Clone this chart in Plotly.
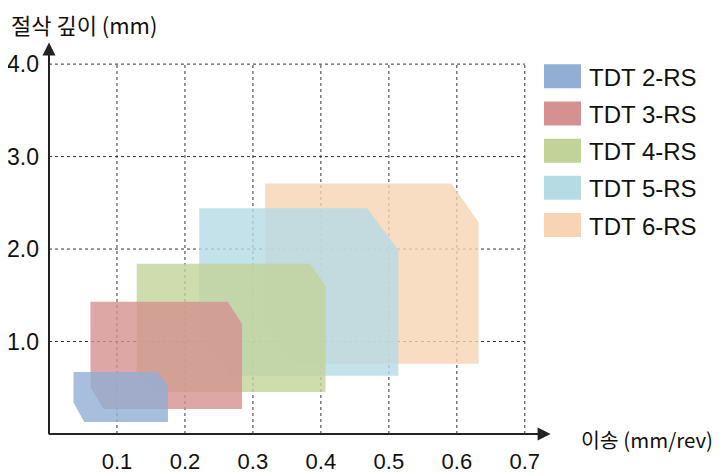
import plotly.graph_objects as go

# ---------------- data ----------------
series = ["TDT 2-RS", "TDT 3-RS", "TDT 4-RS", "TDT 5-RS", "TDT 6-RS"]
colors = ["#92AED4", "#D49190", "#C2D39A", "#B5DBE5", "#F8D4B4"]

# feed (mm/rev) extents of each operating window
x_left = [0.036, 0.061, 0.129, 0.221, 0.318]
x_left_cut = [0.052, 0.080, 0.152, 0.266, 0.357]
x_right_cut = [0.159, 0.263, 0.384, 0.468, 0.592]
x_right = [0.175, 0.284, 0.407, 0.514, 0.632]
# depth of cut (mm) extents
y_top = [0.67, 1.43, 1.84, 2.44, 2.71]
y_top_cut = [0.53, 1.19, 1.60, 1.99, 2.29]
y_bottom_cut = [0.34, 0.51, 0.68, 1.10, 1.17]
y_bottom = [0.13, 0.27, 0.455, 0.63, 0.76]

x_ticks = [0.1, 0.2, 0.3, 0.4, 0.5, 0.6, 0.7]
y_ticks = [1.0, 2.0, 3.0, 4.0]
x_tick_labels = ["0.1", "0.2", "0.3", "0.4", "0.5", "0.6", "0.7"]
y_tick_labels = ["1.0", "2.0", "3.0", "4.0"]

x_title = "이송 (mm/rev)"
y_title = "절삭 깊이 (mm)"

# ---------------- layout helpers ----------------
OFF = 8  # page body margin
W, H = 722 - OFF, 475 - OFF
ML, MR, MT, MB = 49 - OFF, 170, 40.7 - OFF, 41.2
X_MAX = 0.74
Y_MAX = 4.25
FONT = "Liberation Sans, Arial, Noto Sans CJK KR, sans-serif"
KFONT = "Noto Sans CJK KR, Liberation Sans, sans-serif"


def px2paper_x(px):
    return (px - OFF - ML) / (W - ML - MR)


def px2paper_y(py):
    return (H - MB - (py - OFF)) / (H - MT - MB)


def rgba(hexc, a):
    h = hexc.lstrip("#")
    r, g, b = int(h[0:2], 16), int(h[2:4], 16), int(h[4:6], 16)
    return f"rgba({r},{g},{b},{a})"


fig = go.Figure()

# draw from last to first so TDT 2-RS is on top
for i in reversed(range(len(series))):
    xs = [x_left[i], x_right_cut[i], x_right[i], x_right[i], x_left_cut[i], x_left[i], x_left[i]]
    ys = [y_top[i], y_top[i], y_top_cut[i], y_bottom[i], y_bottom[i], y_bottom_cut[i], y_top[i]]
    fig.add_trace(go.Scatter(
        x=xs, y=ys, mode="lines", fill="toself",
        fillcolor=rgba(colors[i], 0.8), line=dict(width=0),
        name=series[i], showlegend=False, hoverinfo="name",
    ))

shapes = []
# dotted grid, limited to the tick extent
for xv in x_ticks:
    shapes.append(dict(type="line", xref="x", yref="y", x0=xv, x1=xv, y0=0, y1=max(y_ticks),
                       line=dict(color="#333333", width=1, dash="dot"), layer="below"))
for yv in y_ticks:
    shapes.append(dict(type="line", xref="x", yref="y", x0=0, x1=max(x_ticks), y0=yv, y1=yv,
                       line=dict(color="#333333", width=1, dash="dot"), layer="below"))

annotations = []
# axes with arrowheads
annotations.append(dict(x=0.738, y=0, ax=-0.002, ay=0, xref="x", yref="y", axref="x", ayref="y",
                        showarrow=True, arrowhead=2, arrowsize=1.3, arrowwidth=2, arrowcolor="#222222",
                        text=""))
annotations.append(dict(x=0, y=4.235, ax=0, ay=-0.02, xref="x", yref="y", axref="x", ayref="y",
                        showarrow=True, arrowhead=2, arrowsize=1.3, arrowwidth=2, arrowcolor="#222222",
                        text=""))

# axis titles
annotations.append(dict(text=y_title, xref="paper", yref="paper", x=px2paper_x(9), y=px2paper_y(24),
                        xanchor="left", yanchor="middle", showarrow=False,
                        font=dict(family=KFONT, size=22, color="#111111")))
annotations.append(dict(text=x_title, xref="paper", yref="paper", x=px2paper_x(579), y=px2paper_y(439),
                        xanchor="left", yanchor="middle", showarrow=False,
                        font=dict(family=KFONT, size=20.5, color="#111111")))

# manual legend
row0 = 76
row_step = 37.2
for i, name in enumerate(series):
    cy = row0 + i * row_step
    shapes.append(dict(type="rect", xref="paper", yref="paper",
                       x0=px2paper_x(544), x1=px2paper_x(581),
                       y0=px2paper_y(cy - 12), y1=px2paper_y(cy + 12),
                       fillcolor=colors[i], line=dict(width=0), layer="above"))
    annotations.append(dict(text=name, xref="paper", yref="paper", x=px2paper_x(587), y=px2paper_y(cy + 1),
                            xanchor="left", yanchor="middle", showarrow=False,
                            font=dict(family=FONT, size=24, color="#111111")))

fig.update_layout(
    width=W, height=H,
    margin=dict(l=ML, r=MR, t=MT, b=MB, pad=0, autoexpand=False),
    paper_bgcolor="white", plot_bgcolor="white",
    shapes=shapes, annotations=annotations,
    showlegend=False,
    xaxis=dict(range=[0, X_MAX], showgrid=False, zeroline=False, showline=False,
               tickvals=x_ticks, ticktext=x_tick_labels, ticks="", automargin=False,
               ticklabelstandoff=12,
               tickfont=dict(family=FONT, size=22, color="#111111")),
    yaxis=dict(range=[0, Y_MAX], showgrid=False, zeroline=False, showline=False,
               tickvals=y_ticks, ticktext=y_tick_labels, ticks="", automargin=False,
               ticklabelstandoff=9,
               tickfont=dict(family=FONT, size=23, color="#111111")),
)

fig.write_html("out.html")
